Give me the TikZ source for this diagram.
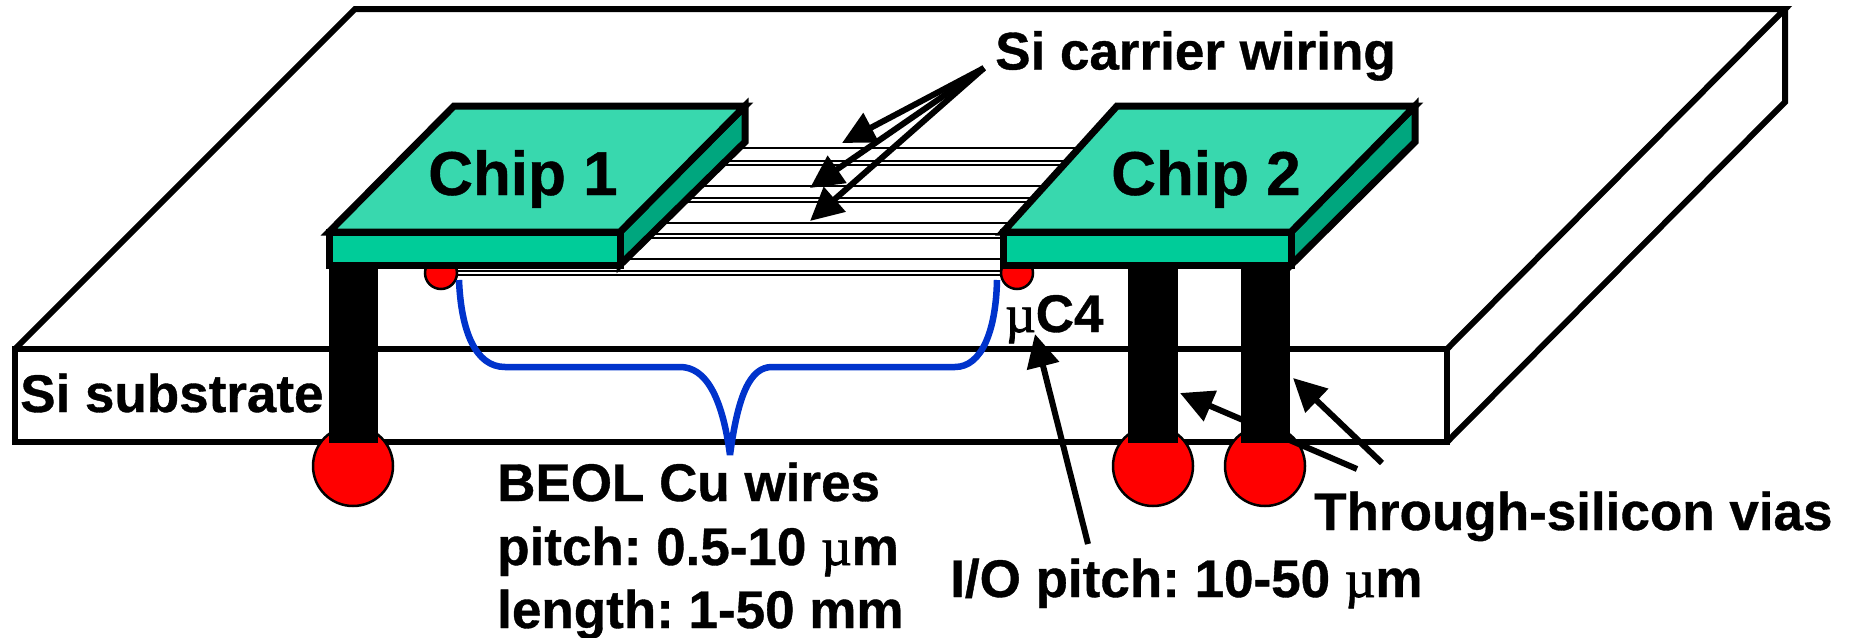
\documentclass[tikz,border=0pt]{standalone}
\usepackage{fontspec}
\setmainfont[BoldFeatures={FakeBold=0.7}]{Liberation Sans}
\newfontfamily\muserif[FakeBold=1.5]{Liberation Serif}
\usetikzlibrary{arrows.meta}
\definecolor{chiptop}{HTML}{38D8AE}
\definecolor{chipfront}{HTML}{00CC99}
\definecolor{chipside}{HTML}{00A67E}
\definecolor{bracecol}{HTML}{0033CC}
\newcommand{\mumark}{{\muserif\mdseries\char"00B5}}
\tikzset{
  outline/.style={draw=black,line width=7pt,line join=miter},
  slabline/.style={draw=black,line width=6pt,line join=miter},
  wire/.style={draw=black,line width=2pt},
  via/.style={fill=black,draw=none},
  ball/.style={fill=red,draw=black,line width=2.5pt},
  pointer/.style={draw=black,line width=6pt,-{Triangle[length=33pt,width=32pt]}},
  lbl/.style={anchor=base west,inner sep=0pt,font=\fontsize{53}{60}\selectfont\bfseries\frenchspacing},
  chiplbl/.style={anchor=base west,inner sep=0pt,font=\fontsize{62}{70}\selectfont\bfseries},
  bluebrace/.style={draw=bracecol,line width=6.5pt,line cap=butt,line join=bevel}
}
\begin{document}
\begin{tikzpicture}[x=1pt,y=-1pt]
\useasboundingbox (0,0) rectangle (1854,637);
% substrate
\draw[slabline] (15,349) -- (355,9) -- (1785,9) -- (1447,349);
\draw[slabline] (15,349) rectangle (1447,442);
\draw[slabline] (1447,442) -- (1785,102) -- (1785,9);
% balls
\draw[ball] (353,466) circle (40);
\draw[ball] (1153,466) circle (40);
\draw[ball] (1265,466) circle (40);
\draw[ball] (441,273) circle (16);
\draw[ball] (1017,273) circle (16);
% wires
\foreach \yy in {148,161,165,186,198,202,223,234,238,259}{
  \draw[wire] (600,\yy) -- (1100,\yy);
}
\foreach \yy in {271,275}{
  \draw[wire] (458,\yy) -- (1001,\yy);
}
% vias
\fill[via] (329,268) rectangle (378,443);
\fill[via] (1128,268) rectangle (1178,443);
\fill[via] (1241,268) rectangle (1290,443);
% chip 1
\filldraw[outline,fill=chipside] (620,232) -- (745,106) -- (745,142) -- (620,265) -- cycle;
\filldraw[outline,fill=chiptop] (329,232) -- (454,106) -- (745,106) -- (620,232) -- cycle;
\filldraw[outline,fill=chipfront] (329,232) rectangle (620,265);
% chip 2
\filldraw[outline,fill=chipside] (1291,232) -- (1415,106) -- (1415,142) -- (1291,265) -- cycle;
\filldraw[outline,fill=chiptop] (1003,232) -- (1117,106) -- (1415,106) -- (1291,232) -- cycle;
\filldraw[outline,fill=chipfront] (1003,232) rectangle (1291,265);
% brace
\draw[bluebrace] (459,280) .. controls (461,330) and (475,367) .. (505,367)
  -- (680,367) .. controls (705,367) and (722,395) .. (730,455)
  .. controls (738,395) and (750,367) .. (772,367)
  -- (955,367) .. controls (982,367) and (996,330) .. (997,280);
% labels
\node[chiplbl] (chipa) at (428,195) {Chip 1};
\node[chiplbl] (chipb) at (1111,195) {Chip 2};
\node[lbl] (carrier) at (995,69.5) {Si carrier wiring};
\node[lbl] (subst) at (20,412) {Si substrate};
\node[lbl] (ucfour) at (1005,332) {\mumark C4};
\node[lbl] (beol) at (497,501) {BEOL Cu wires};
\node[lbl] (pitch) at (497,565) {pitch: 0.5-10 \mumark m};
\node[lbl] (len) at (497,628) {length: 1-50 mm};
\node[lbl] (iop) at (950,597) {I/O pitch: 10-50 \mumark m};
\node[lbl] (tsv) at (1314,530) {Through-silicon vias};
% pointers
\coordinate (cs) at (984,68);
\coordinate (ca) at (842,143);
\coordinate (cb) at (810,188);
\coordinate (cc) at (810,221);
\draw[pointer] (cs) -- (ca);
\draw[pointer] (cs) -- (cb);
\draw[pointer] (cs) -- (cc);
\coordinate (ts) at (1357,469);
\coordinate (tt) at (1180,393);
\coordinate (us) at (1382,463);
\coordinate (ut) at (1293,378);
\draw[pointer] (ts) -- (tt);
\draw[pointer] (us) -- (ut);
\coordinate (ms) at (1088,544);
\coordinate (mt) at (1035,334);
\draw[pointer] (ms) -- (mt);
\end{tikzpicture}
\end{document}
